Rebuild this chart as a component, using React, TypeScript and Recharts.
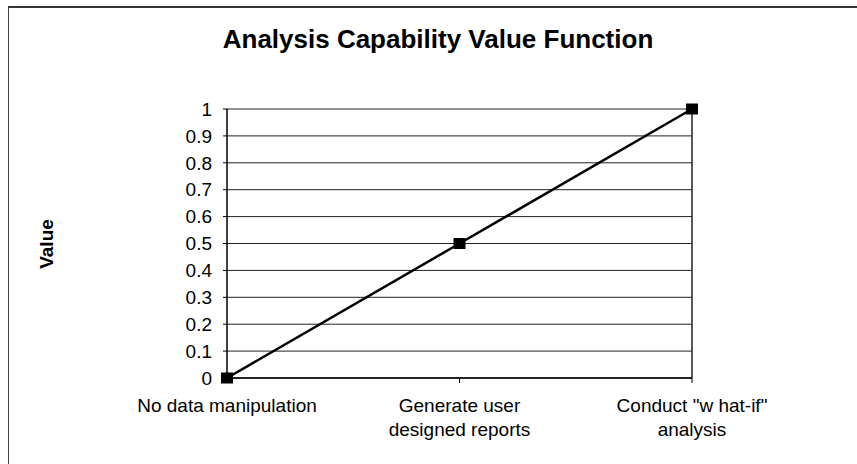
import { LineChart, Line, XAxis, YAxis, CartesianGrid, ReferenceLine } from "recharts";

const CATEGORIES = [
  "No data manipulation",
  "Generate user\ndesigned reports",
  'Conduct "w hat-if"\nanalysis',
];
const VALUES = [0, 0.5, 1];
const Y_TICKS = [0, 0.1, 0.2, 0.3, 0.4, 0.5, 0.6, 0.7, 0.8, 0.9, 1];

const FONT = "'Liberation Sans', Arial, sans-serif";

const data = CATEGORIES.map((c, i) => ({ category: c, value: VALUES[i] }));

function CategoryTick({ x, y, payload }: any) {
  const lines = String(payload.value).split("\n");
  return (
    <text x={x} y={y} textAnchor="middle" fontSize={19} fontFamily={FONT} fill="#000">
      {lines.map((line, i) => (
        <tspan key={i} x={x} dy={i === 0 ? 29 : 24}>
          {line}
        </tspan>
      ))}
    </text>
  );
}

function SquareDot({ cx, cy }: any) {
  if (cx == null || cy == null) return null;
  return <rect x={cx - 6} y={cy - 5.5} width={12} height={11} fill="#000" />;
}

export default function App() {
  return (
    <div
      style={{
        position: "absolute",
        left: 0,
        top: 0,
        width: 857,
        height: 464,
        overflow: "hidden",
        background: "#fff",
        fontFamily: FONT,
      }}
    >
      {/* chart frame: only left and top edges fall inside the picture */}
      <div
        style={{
          position: "absolute",
          left: 8,
          top: 6,
          width: 900,
          height: 500,
          borderLeft: "1px solid #444",
          borderTop: "2px solid #333",
        }}
      />
      <div
        style={{
          position: "absolute",
          left: 0,
          top: 27,
          width: 876,
          textAlign: "center",
          fontSize: 26,
          lineHeight: "24px",
          fontWeight: "bold",
          color: "#000",
        }}
      >
        Analysis Capability Value Function
      </div>
      <div
        style={{
          position: "absolute",
          left: 47,
          top: 244,
          transform: "translate(-50%, -50%) rotate(-90deg)",
          fontSize: 19,
          fontWeight: "bold",
          color: "#000",
          whiteSpace: "nowrap",
        }}
      >
        Value
      </div>
      <div style={{ position: "absolute", left: 0, top: 0 }}>
        <LineChart
          width={857}
          height={464}
          data={data}
          margin={{ top: 109, right: 165, bottom: 26, left: 0 }}
        >
          <CartesianGrid vertical={false} stroke="#222" strokeWidth={1} />
          <XAxis
            dataKey="category"
            scale="point"
            padding={{ left: 0, right: 0 }}
            height={60}
            interval={0}
            tick={<CategoryTick />}
            tickSize={5}
            tickMargin={0}
            axisLine={{ stroke: "#000", strokeWidth: 1.5 }}
            tickLine={{ stroke: "#000" }}
          />
          <YAxis
            type="number"
            domain={[0, 1]}
            ticks={Y_TICKS}
            interval={0}
            width={227}
            tickSize={4}
            tickMargin={11}
            tick={{ fontSize: 19, fontFamily: FONT, fill: "#000" }}
            axisLine={{ stroke: "#000", strokeWidth: 1.5 }}
            tickLine={{ stroke: "#000" }}
          />
          <ReferenceLine x={CATEGORIES[2]} stroke="#222" strokeWidth={1.5} />
          <Line
            type="linear"
            dataKey="value"
            stroke="#000"
            strokeWidth={2.5}
            dot={<SquareDot />}
            activeDot={false}
            isAnimationActive={false}
          />
        </LineChart>
      </div>
    </div>
  );
}
